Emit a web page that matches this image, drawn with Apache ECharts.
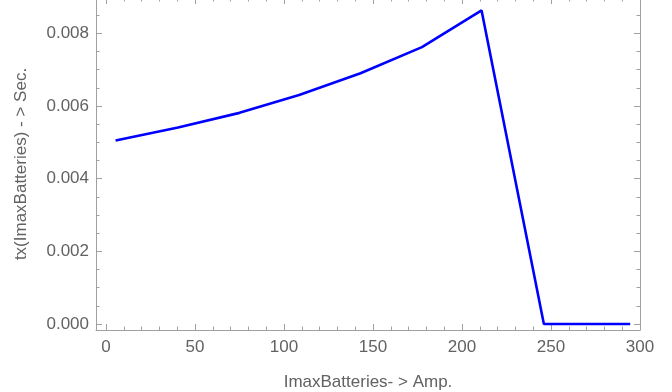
<!DOCTYPE html>
<html>
<head>
<meta charset="utf-8">
<script src="https://cdn.jsdelivr.net/npm/echarts@6/dist/echarts.min.js"></script>
<style>
  html, body { margin: 0; padding: 0; background: #fff; }
  #chart { width: 672px; height: 392px; }
</style>
</head>
<body>
<div id="chart"></div>
<script>
// Switching time versus maximum battery current
const amps = [5.4, 40.5, 75, 108.5, 143, 177.5, 211, 246, 294.5];
const txSeconds = [0.00505, 0.00541, 0.00581, 0.00630, 0.00690, 0.00762, 0.00863, 0, 0];

// Frame tick positions
const xMajorTicks = [0, 50, 100, 150, 200, 250, 300];
const xMinorTicks = [10, 20, 30, 40, 60, 70, 80, 90, 110, 120, 130, 140, 160, 170, 180, 190,
                     210, 220, 230, 240, 260, 270, 280, 290];
const yMajorTicks = [0, 0.002, 0.004, 0.006, 0.008];
const yMinorTicks = [0.0005, 0.001, 0.0015, 0.0025, 0.003, 0.0035, 0.0045, 0.005, 0.0055,
                     0.0065, 0.007, 0.0075, 0.0085];

const xTitle = 'ImaxBatteries- > Amp.';
const yTitle = 'tx(ImaxBatteries) - > Sec.';

const X_MIN = -5.6, X_MAX = 300;
const Y_MIN = -0.000165, Y_MAX = 0.008971;

const FRAME = '#a0a0a0';
const TEXT = '#626262';
const FONT = '"Liberation Sans", Arial, sans-serif';

function frameAxis(kind, position, ticks, opts) {
  const isMajor = opts.major;
  return Object.assign({
    type: 'value',
    gridIndex: 0,
    position: position,
    min: kind === 'x' ? X_MIN : Y_MIN,
    max: kind === 'x' ? X_MAX : Y_MAX,
    axisLine: { show: isMajor, onZero: false, lineStyle: { color: FRAME, width: 1 } },
    axisTick: {
      show: true,
      inside: true,
      length: isMajor ? 6 : 3.5,
      customValues: ticks,
      lineStyle: { color: FRAME, width: 1 }
    },
    axisLabel: { show: false },
    splitLine: { show: false }
  }, opts.extra || {});
}

const xAxes = [
  frameAxis('x', 'bottom', xMajorTicks, {
    major: true,
    extra: {
      name: xTitle,
      nameLocation: 'middle',
      nameGap: 44,
      nameTextStyle: { color: TEXT, fontFamily: FONT, fontSize: 17 },
      axisLabel: {
        show: true,
        customValues: xMajorTicks,
        color: TEXT,
        fontFamily: FONT,
        fontSize: 17,
        margin: 9,
        formatter: v => String(v)
      }
    }
  }),
  frameAxis('x', 'bottom', xMinorTicks, { major: false }),
  frameAxis('x', 'top', xMajorTicks, { major: true }),
  frameAxis('x', 'top', xMinorTicks, { major: false })
];

const yAxes = [
  frameAxis('y', 'left', yMajorTicks, {
    major: true,
    extra: {
      name: yTitle,
      nameLocation: 'middle',
      nameGap: 66,
      nameTextStyle: { color: TEXT, fontFamily: FONT, fontSize: 17 },
      axisLabel: {
        show: true,
        customValues: yMajorTicks,
        color: TEXT,
        fontFamily: FONT,
        fontSize: 17,
        margin: 7,
        formatter: v => v.toFixed(3)
      }
    }
  }),
  frameAxis('y', 'left', yMinorTicks, { major: false }),
  frameAxis('y', 'right', yMajorTicks, { major: true }),
  frameAxis('y', 'right', yMinorTicks, { major: false })
];

const chart = echarts.init(document.getElementById('chart'), null, { renderer: 'canvas' });
chart.setOption({
  animation: false,
  backgroundColor: '#ffffff',
  grid: {
    left: 96, right: 32, top: -2, bottom: 62,
    containLabel: false,
    outerBoundsMode: 'none'
  },
  xAxis: xAxes,
  yAxis: yAxes,
  series: [{
    type: 'line',
    xAxisIndex: 0,
    yAxisIndex: 0,
    data: amps.map((a, i) => [a, txSeconds[i]]),
    showSymbol: false,
    symbol: 'none',
    lineStyle: { color: '#0000ff', width: 2.6 },
    clip: true
  }]
});
</script>
</body>
</html>
